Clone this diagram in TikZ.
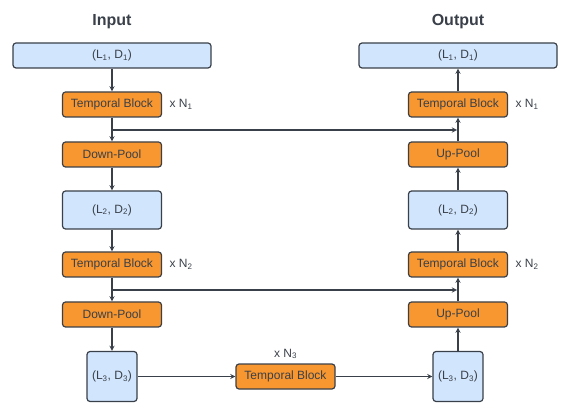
\documentclass[tikz,border=0pt]{standalone}
\usepackage{fontspec}
\setmainfont{Liberation Sans}
\usepackage{tikz}
\usetikzlibrary{shapes,arrows}
\definecolor{boxblue}{HTML}{D1E5FC}
\definecolor{boxorange}{HTML}{F8962F}
\definecolor{edgegray}{HTML}{3A4049}
\tikzset{
  shapebox/.style={draw=edgegray, fill=boxblue, line width=1.2pt, rounded corners=3pt,
    text=edgegray, font=\fontsize{12}{14}\selectfont, inner sep=0pt},
  blockbox/.style={draw=edgegray, fill=boxorange, line width=1.2pt, rounded corners=3pt,
    text=edgegray, font=\fontsize{12}{14}\selectfont, inner sep=0pt,
    minimum width=99pt, minimum height=25pt},
  reptext/.style={text=edgegray, font=\fontsize{12}{14}\selectfont},
  headtext/.style={text=edgegray, font=\fontsize{16}{18}\selectfont\bfseries},
  conn/.style={->, >=stealth, draw=edgegray, line width=1.3pt},
}
\newcommand\dims[2]{(L\textsubscript{#1}, D\textsubscript{#2})}
\begin{document}
\begin{tikzpicture}
\useasboundingbox (0,0) rectangle (570pt,415pt);

% to write headings
\node [headtext] (intitle) at (112pt,393pt) {Input};
\node [headtext] (outtitle) at (458pt,393pt) {Output};

% encoder side
\node [shapebox, minimum width=198pt, minimum height=25pt] (in1) at (112pt,359.5pt) {\dims{1}{1}};
\node [blockbox] (enc1) at (112pt,310.5pt) {Temporal Block};
\node [reptext] (n1l) at (181pt,310.5pt) {x N\textsubscript{1}};
\node [blockbox] (down1) at (112pt,260.5pt) {Down-Pool};
\node [shapebox, minimum width=99pt, minimum height=38pt] (in2) at (112pt,205pt) {\dims{2}{2}};
\node [blockbox] (enc2) at (112pt,150.5pt) {Temporal Block};
\node [reptext] (n2l) at (181pt,150.5pt) {x N\textsubscript{2}};
\node [blockbox] (down2) at (112pt,100.5pt) {Down-Pool};
\node [shapebox, minimum width=50pt, minimum height=50pt] (in3) at (112pt,38.5pt) {\dims{3}{3}};

% bottleneck
\node [blockbox] (mid) at (285.5pt,38.5pt) {Temporal Block};
\node [reptext] (n3) at (285.5pt,61pt) {x N\textsubscript{3}};

% decoder side
\node [shapebox, minimum width=50pt, minimum height=50pt] (out3) at (458pt,38.5pt) {\dims{3}{3}};
\node [blockbox] (up2) at (458pt,100.5pt) {Up-Pool};
\node [blockbox] (dec2) at (458pt,150.5pt) {Temporal Block};
\node [reptext] (n2r) at (527pt,150.5pt) {x N\textsubscript{2}};
\node [shapebox, minimum width=99pt, minimum height=38pt] (out2) at (458pt,205pt) {\dims{2}{2}};
\node [blockbox] (up1) at (458pt,260.5pt) {Up-Pool};
\node [blockbox] (dec1) at (458pt,310.5pt) {Temporal Block};
\node [reptext] (n1r) at (527pt,310.5pt) {x N\textsubscript{1}};
\node [shapebox, minimum width=198pt, minimum height=25pt] (out1) at (458pt,359.5pt) {\dims{1}{1}};

% to draw the down path
\draw [conn] (in1) -- (enc1);
\draw [conn] (enc1) -- (down1);
\draw [conn] (down1) -- (in2);
\draw [conn] (in2) -- (enc2);
\draw [conn] (enc2) -- (down2);
\draw [conn] (down2) -- (in3);
\draw [conn] (in3) -- (mid);
\draw [conn] (mid) -- (out3);

% to draw the up path
\draw [conn] (out3) -- (up2);
\draw [conn] (up2) -- (dec2);
\draw [conn] (dec2) -- (out2);
\draw [conn] (out2) -- (up1);
\draw [conn] (up1) -- (dec1);
\draw [conn] (dec1) -- (out1);

% to draw skip connections
\coordinate (skip1a) at (112pt,285pt);
\coordinate (skip1b) at (457pt,285pt);
\coordinate (skip2a) at (112pt,125pt);
\coordinate (skip2b) at (457pt,125pt);
\draw [conn] (skip1a) -- (skip1b);
\draw [conn] (skip2a) -- (skip2b);
\end{tikzpicture}
\end{document}
